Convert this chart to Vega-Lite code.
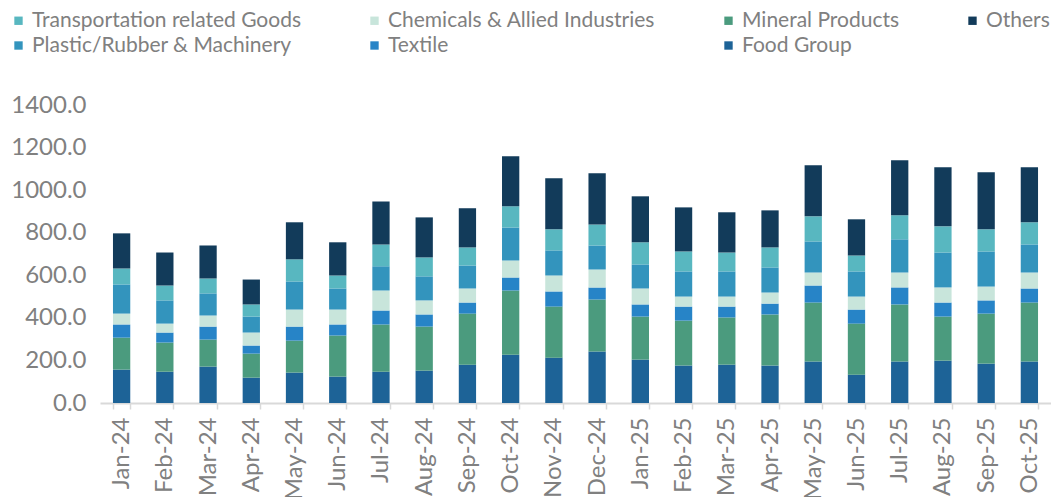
{
  "$schema": "https://vega.github.io/schema/vega-lite/v6.json",
  "autosize": "none",
  "padding": {"left": 100, "top": 105, "right": 0, "bottom": 94},
  "width": 951,
  "height": 298,
  "background": "white",
  "config": {
    "font": "Lato",
    "view": {"stroke": null}
  },
  "data": {
    "values": [
      {"month": "Jan-24", "Food Group": 157, "Mineral Products": 150, "Textile": 62, "Chemicals & Allied Industries": 51, "Plastic/Rubber & Machinery": 137, "Transportation related Goods": 75, "Others": 165},
      {"month": "Feb-24", "Food Group": 147, "Mineral Products": 137, "Textile": 47, "Chemicals & Allied Industries": 42, "Plastic/Rubber & Machinery": 109, "Transportation related Goods": 70, "Others": 155},
      {"month": "Mar-24", "Food Group": 171, "Mineral Products": 127, "Textile": 61, "Chemicals & Allied Industries": 52, "Plastic/Rubber & Machinery": 104, "Transportation related Goods": 70, "Others": 155},
      {"month": "Apr-24", "Food Group": 119, "Mineral Products": 113, "Textile": 38, "Chemicals & Allied Industries": 61, "Plastic/Rubber & Machinery": 75, "Transportation related Goods": 57, "Others": 117},
      {"month": "May-24", "Food Group": 143, "Mineral Products": 150, "Textile": 66, "Chemicals & Allied Industries": 80, "Plastic/Rubber & Machinery": 132, "Transportation related Goods": 104, "Others": 174},
      {"month": "Jun-24", "Food Group": 124, "Mineral Products": 193, "Textile": 52, "Chemicals & Allied Industries": 70, "Plastic/Rubber & Machinery": 99, "Transportation related Goods": 61, "Others": 156},
      {"month": "Jul-24", "Food Group": 147, "Mineral Products": 222, "Textile": 66, "Chemicals & Allied Industries": 94, "Plastic/Rubber & Machinery": 113, "Transportation related Goods": 103, "Others": 202},
      {"month": "Aug-24", "Food Group": 152, "Mineral Products": 207, "Textile": 57, "Chemicals & Allied Industries": 66, "Plastic/Rubber & Machinery": 113, "Transportation related Goods": 89, "Others": 188},
      {"month": "Sep-24", "Food Group": 180, "Mineral Products": 240, "Textile": 52, "Chemicals & Allied Industries": 66, "Plastic/Rubber & Machinery": 108, "Transportation related Goods": 85, "Others": 184},
      {"month": "Oct-24", "Food Group": 227, "Mineral Products": 302, "Textile": 61, "Chemicals & Allied Industries": 80, "Plastic/Rubber & Machinery": 155, "Transportation related Goods": 99, "Others": 235},
      {"month": "Nov-24", "Food Group": 213, "Mineral Products": 240, "Textile": 71, "Chemicals & Allied Industries": 75, "Plastic/Rubber & Machinery": 118, "Transportation related Goods": 99, "Others": 240},
      {"month": "Dec-24", "Food Group": 242, "Mineral Products": 244, "Textile": 57, "Chemicals & Allied Industries": 84, "Plastic/Rubber & Machinery": 113, "Transportation related Goods": 99, "Others": 240},
      {"month": "Jan-25", "Food Group": 204, "Mineral Products": 202, "Textile": 57, "Chemicals & Allied Industries": 75, "Plastic/Rubber & Machinery": 113, "Transportation related Goods": 104, "Others": 216},
      {"month": "Feb-25", "Food Group": 176, "Mineral Products": 211, "Textile": 66, "Chemicals & Allied Industries": 47, "Plastic/Rubber & Machinery": 118, "Transportation related Goods": 94, "Others": 207},
      {"month": "Mar-25", "Food Group": 180, "Mineral Products": 222, "Textile": 51, "Chemicals & Allied Industries": 47, "Plastic/Rubber & Machinery": 118, "Transportation related Goods": 89, "Others": 189},
      {"month": "Apr-25", "Food Group": 176, "Mineral Products": 240, "Textile": 51, "Chemicals & Allied Industries": 52, "Plastic/Rubber & Machinery": 118, "Transportation related Goods": 94, "Others": 174},
      {"month": "May-25", "Food Group": 195, "Mineral Products": 277, "Textile": 80, "Chemicals & Allied Industries": 61, "Plastic/Rubber & Machinery": 146, "Transportation related Goods": 118, "Others": 240},
      {"month": "Jun-25", "Food Group": 133, "Mineral Products": 240, "Textile": 66, "Chemicals & Allied Industries": 61, "Plastic/Rubber & Machinery": 118, "Transportation related Goods": 75, "Others": 170},
      {"month": "Jul-25", "Food Group": 195, "Mineral Products": 268, "Textile": 80, "Chemicals & Allied Industries": 70, "Plastic/Rubber & Machinery": 156, "Transportation related Goods": 113, "Others": 258},
      {"month": "Aug-25", "Food Group": 199, "Mineral Products": 207, "Textile": 66, "Chemicals & Allied Industries": 71, "Plastic/Rubber & Machinery": 164, "Transportation related Goods": 123, "Others": 277},
      {"month": "Sep-25", "Food Group": 185, "Mineral Products": 235, "Textile": 62, "Chemicals & Allied Industries": 65, "Plastic/Rubber & Machinery": 165, "Transportation related Goods": 104, "Others": 268},
      {"month": "Oct-25", "Food Group": 195, "Mineral Products": 277, "Textile": 66, "Chemicals & Allied Industries": 75, "Plastic/Rubber & Machinery": 132, "Transportation related Goods": 104, "Others": 258}
    ]
  },
  "transform": [
    {"fold": ["Food Group", "Mineral Products", "Textile", "Chemicals & Allied Industries", "Plastic/Rubber & Machinery", "Transportation related Goods", "Others"], "as": ["category", "value"]},
    {"calculate": "indexof(['Food Group','Mineral Products','Textile','Chemicals & Allied Industries','Plastic/Rubber & Machinery','Transportation related Goods','Others'], datum.category)", "as": "stackOrder"}
  ],
  "mark": {"type": "bar"},
  "encoding": {
    "x": {
      "field": "month",
      "type": "nominal",
      "sort": null,
      "scale": {"paddingInner": 0.6, "paddingOuter": 0.3},
      "axis": {
        "title": null,
        "labelAngle": -90,
        "labelAlign": "right",
        "labelBaseline": "middle",
        "labelFontSize": 24,
        "labelColor": "#808080",
        "labelPadding": 8,
        "labelLimit": 200,
        "domainColor": "#d9d9d9",
        "domainWidth": 2,
        "tickColor": "#d9d9d9",
        "tickWidth": 1.5,
        "tickSize": 6,
        "tickBand": "extent"
      }
    },
    "y": {
      "field": "value",
      "type": "quantitative",
      "stack": "zero",
      "scale": {"domain": [0, 1400], "nice": false},
      "axis": {
        "title": null,
        "values": [0, 200, 400, 600, 800, 1000, 1200, 1400],
        "format": ".1f",
        "grid": false,
        "domain": false,
        "ticks": false,
        "labelFontSize": 24,
        "labelColor": "#808080",
        "labelPadding": 14
      }
    },
    "color": {
      "field": "category",
      "type": "nominal",
      "scale": {
        "domain": ["Transportation related Goods", "Chemicals & Allied Industries", "Mineral Products", "Others", "Plastic/Rubber & Machinery", "Textile", "Food Group"],
        "range": ["#58b7c0", "#c8e5db", "#4b9b7e", "#123b5a", "#3394bd", "#2784c7", "#1d6397"]
      },
      "legend": {
        "title": null,
        "orient": "none",
        "legendX": -92,
        "legendY": -95,
        "direction": "horizontal",
        "columns": 4,
        "columnPadding": 62,
        "rowPadding": 3,
        "symbolType": "square",
        "symbolSize": 70,
        "symbolStrokeWidth": 0,
        "labelFontSize": 21,
        "labelLimit": 400,
        "labelColor": "#808080",
        "labelOffset": 3
      }
    },
    "order": {"field": "stackOrder", "type": "quantitative", "sort": "ascending"}
  }
}
